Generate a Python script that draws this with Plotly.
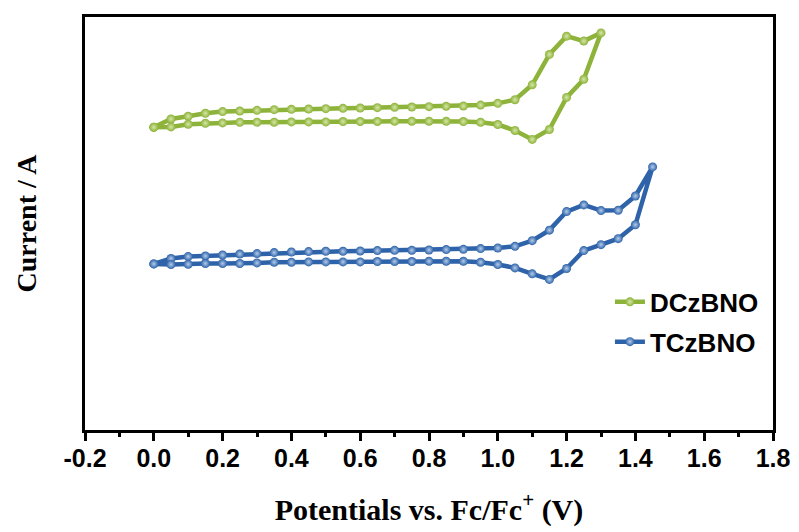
import plotly.graph_objects as go

# Potentials (V vs Fc/Fc+), 0.05 V steps
dcz_fwd_x = [0.00, 0.05, 0.10, 0.15, 0.20, 0.25, 0.30, 0.35, 0.40, 0.45, 0.50, 0.55, 0.60, 0.65,
             0.70, 0.75, 0.80, 0.85, 0.90, 0.95, 1.00, 1.05, 1.10, 1.15, 1.20, 1.25, 1.30]
dcz_fwd_y = [305.0, 313.3, 316.0, 319.0, 320.7, 321.3, 322.0, 322.7, 323.0, 323.3, 323.7, 324.0, 324.3, 324.7,
             325.0, 325.3, 325.7, 326.0, 326.3, 327.3, 329.0, 332.7, 347.7, 378.3, 396.7, 391.7, 400.0]
dcz_rev_x = [1.25, 1.20, 1.15, 1.10, 1.05, 1.00, 0.95, 0.90, 0.85, 0.80, 0.75, 0.70, 0.65,
             0.60, 0.55, 0.50, 0.45, 0.40, 0.35, 0.30, 0.25, 0.20, 0.15, 0.10, 0.05, 0.00]
dcz_rev_y = [353.3, 335.0, 302.7, 292.7, 301.7, 307.7, 310.0, 310.7, 311.0, 311.0, 311.0, 311.0, 310.7,
             310.7, 310.7, 310.3, 310.3, 310.3, 310.0, 310.0, 310.0, 309.3, 309.0, 308.0, 305.3, 305.0]

tcz_fwd_x = [0.00, 0.05, 0.10, 0.15, 0.20, 0.25, 0.30, 0.35, 0.40, 0.45, 0.50, 0.55, 0.60, 0.65, 0.70,
             0.75, 0.80, 0.85, 0.90, 0.95, 1.00, 1.05, 1.10, 1.15, 1.20, 1.25, 1.30, 1.35, 1.40, 1.45]
tcz_fwd_y = [167.3, 172.7, 174.7, 175.3, 176.3, 177.3, 177.7, 178.7, 179.3, 179.7, 180.0, 180.0, 180.3, 180.7, 181.0,
             181.0, 181.3, 181.7, 182.0, 182.7, 183.3, 185.0, 190.7, 201.3, 220.0, 226.7, 221.0, 221.3, 235.7, 265.0]
tcz_rev_x = [1.40, 1.35, 1.30, 1.25, 1.20, 1.15, 1.10, 1.05, 1.00, 0.95, 0.90, 0.85, 0.80, 0.75, 0.70,
             0.65, 0.60, 0.55, 0.50, 0.45, 0.40, 0.35, 0.30, 0.25, 0.20, 0.15, 0.10, 0.05, 0.00]
tcz_rev_y = [206.7, 192.7, 186.7, 180.7, 162.7, 151.7, 157.3, 163.3, 166.7, 169.0, 170.0, 170.0, 170.0, 169.7, 169.7,
             169.7, 169.3, 169.3, 169.3, 169.3, 169.0, 169.0, 168.3, 167.7, 167.7, 167.7, 167.0, 166.7, 167.3]

x_tick_vals = [-0.2, 0.0, 0.2, 0.4, 0.6, 0.8, 1.0, 1.2, 1.4, 1.6, 1.8]
x_tick_text = ["-0.2", "0.0", "0.2", "0.4", "0.6", "0.8", "1.0", "1.2", "1.4", "1.6", "1.8"]

series = [
    ("DCzBNO", dcz_fwd_x + dcz_rev_x, dcz_fwd_y + dcz_rev_y, "#8DB33A", "#D6E6A8"),
    ("TCzBNO", tcz_fwd_x + tcz_rev_x, tcz_fwd_y + tcz_rev_y, "#2E63A9", "#B4CCEA"),
]

fig = go.Figure()
for name, xs, ys, col, hi in series:
    fig.add_trace(go.Scatter(
        x=xs, y=ys, name=name, mode="lines+markers", legendgroup=name,
        line=dict(color=col, width=4.5),
        marker=dict(size=9, color=col, gradient=dict(type="radial", color=hi),
                    line=dict(width=0)),
    ))

fig.update_layout(
    width=791, height=524,
    margin=dict(l=77, r=26, t=6, b=102),
    paper_bgcolor="white", plot_bgcolor="white",
    showlegend=True,
    legend=dict(x=0.763, y=0.367, xanchor="left", yanchor="top",
                font=dict(family="Liberation Sans, Arial", size=26, color="black", weight="bold"),
                tracegroupgap=3, bgcolor="rgba(0,0,0,0)"),
    xaxis=dict(
        range=[-0.2, 1.8], tickmode="array", tickvals=x_tick_vals, ticktext=x_tick_text,
        showgrid=False, zeroline=False,
        showline=True, linecolor="black", linewidth=3, mirror=True,
        ticks="outside", ticklen=8, tickwidth=2.5, tickcolor="black",
        ticklabelstandoff=-4,
        minor=dict(dtick=0.1, tick0=-0.2, ticks="outside", ticklen=4, tickwidth=2.5, tickcolor="black"),
        tickfont=dict(family="Liberation Sans, Arial", size=25, color="black", weight="bold"),
        title=dict(text="Potentials vs. Fc/Fc<sup>+</sup> (V)", standoff=28,
                   font=dict(family="Liberation Serif, Times New Roman", size=30, color="black", weight="bold")),
    ),
    yaxis=dict(
        range=[0, 416], showticklabels=False, ticks="",
        showgrid=False, zeroline=False,
        showline=True, linecolor="black", linewidth=3, mirror=True,
        title=dict(text="Current / A", standoff=38,
                   font=dict(family="Liberation Serif, Times New Roman", size=28, color="black", weight="bold")),
    ),
)

fig.write_html("out.html")
